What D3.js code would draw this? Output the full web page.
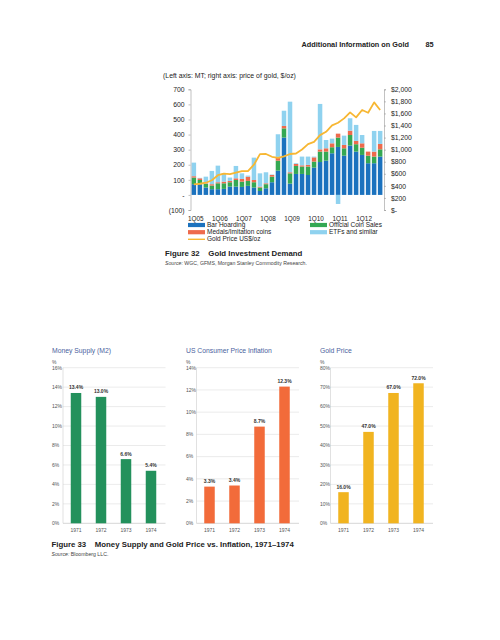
<!DOCTYPE html>
<html><head><meta charset="utf-8">
<script src="https://cdn.jsdelivr.net/npm/d3@7"></script>
<style>body{margin:0;background:#fff}svg{display:block;font-family:"Liberation Sans",Arial,sans-serif}</style>
</head><body>
<svg id="c" width="500" height="640"></svg>
<script>
// ---------- Figure 32 data ----------
const quarters = d3.range(32).map(i => (i % 4 + 1) + "Q" + String(5 + Math.floor(i / 4)).padStart(2, "0"));
const quarterTicks = ["1Q05","1Q06","1Q07","1Q08","1Q09","1Q10","1Q11","1Q12"];
const barHoarding = [71,70,49,38,38,40,55,55,53,60,49,26,44,84,161,380,75,139,139,132,181,218,227,276,318,260,327,287,265,210,210,254];
const officialCoin = [44,29,24,24,39,37,29,44,35,33,35,23,27,37,66,61,68,53,49,56,40,69,60,40,62,49,70,49,48,50,44,48];
const medals = [9,11,4,9,7,11,9,11,18,28,15,6,6,11,25,16,7,13,8,11,28,15,22,26,26,22,29,22,29,27,33,36];
const etfs = [90,3,44,88,110,55,22,82,37,7,148,88,73,3,150,101,468,5,58,55,5,301,55,31,-60,62,82,106,55,0,137,86];
const goldPrice = [425,435,452,493,576,604,593,620,643,645,750,925,928,882,864,890,928,936,1003,1091,1130,1241,1296,1402,1446,1518,1618,1535,1657,1612,1784,1657];
const leftTicks = [-100,0,100,200,300,400,500,600,700];
const rightTicks = [0,200,400,600,800,1000,1200,1400,1600,1800,2000];

// ---------- Figure 33 data ----------
const years = ["1971","1972","1973","1974"];
const moneySupply = [13.4,13.0,6.6,5.4];
const cpiInflation = [3.3,3.4,8.7,12.3];
const goldChange = [16.0,47.0,67.0,72.0];

const svg = d3.select("#c");
const txt = "#222";

// Header
svg.append("text").attr("x",301.5).attr("y",46.5).attr("font-size",7.3).attr("font-weight","bold").attr("fill",txt).text("Additional Information on Gold");
svg.append("text").attr("x",425.5).attr("y",46.5).attr("font-size",7.3).attr("font-weight","bold").attr("fill",txt).text("85");

// ---------- Figure 32 ----------
svg.append("text").attr("x",163).attr("y",77.5).attr("font-size",6.9).attr("fill",txt).text("(Left axis: MT; right axis: price of gold, $/oz)");

const x = d3.scaleBand().domain(quarters).range([191,383]).paddingInner(0.25).paddingOuter(0.1);
const yL = d3.scaleLinear().domain([-100,700]).range([210,89.3]);
const yR = d3.scaleLinear().domain([0,2000]).range([210,89.3]);

const keys = ["hoard","coin","medal","etf"];
const colors = {hoard:"#1b72be",coin:"#34a853",medal:"#ee6a4c",etf:"#8fd2ef"};
const rows = quarters.map((q,i)=>({q,hoard:barHoarding[i],coin:officialCoin[i],medal:medals[i],etf:etfs[i]}));
const stack = d3.stack().keys(keys).offset(d3.stackOffsetDiverging)(rows);

const g1 = svg.append("g");
stack.forEach(s=>{
  g1.append("g").attr("fill",colors[s.key]).selectAll("rect").data(s).join("rect")
    .attr("x",d=>x(d.data.q)).attr("width",x.bandwidth())
    .attr("y",d=>yL(Math.max(d[0],d[1]))).attr("height",d=>Math.abs(yL(d[0])-yL(d[1])));
});

const line = d3.line().x((d,i)=>x(quarters[i])+x.bandwidth()/2).y(d=>yR(d));
g1.append("path").datum(goldPrice).attr("d",line).attr("fill","none").attr("stroke","#f7b733").attr("stroke-width",1.8).attr("stroke-linejoin","round");

// left axis
const axL = d3.axisLeft(yL).tickValues(leftTicks).tickSize(2).tickPadding(4)
  .tickFormat(d=> d<0 ? "("+(-d)+")" : d===0 ? "-" : d);
const gL = svg.append("g").attr("transform","translate(190.5,0)").call(axL);
gL.selectAll("path,line").attr("stroke","#999").attr("stroke-width",0.6);
gL.selectAll("text").attr("font-size",6.8).attr("fill",txt).attr("font-family","Liberation Sans,Arial,sans-serif");

const axR = d3.axisRight(yR).tickValues(rightTicks).tickSize(2).tickPadding(5)
  .tickFormat(d=> d===0 ? "$-" : "$"+d3.format(",")(d));
const gR = svg.append("g").attr("transform","translate(384,0)").call(axR);
gR.selectAll("path,line").attr("stroke","#999").attr("stroke-width",0.6);
gR.selectAll("text").attr("font-size",6.8).attr("fill",txt).attr("font-family","Liberation Sans,Arial,sans-serif");

// x labels
svg.append("g").selectAll("text").data(quarterTicks).join("text")
  .attr("x",d=>x(d)+x.bandwidth()/2+2).attr("y",220.6).attr("text-anchor","middle")
  .attr("font-size",6.4).attr("fill",txt).text(d=>d);

// legend
const legend = [
  {label:"Bar Hoarding",c:colors.hoard,x:188,y:225,t:"rect"},
  {label:"Official Coin Sales",c:colors.coin,x:310,y:225,t:"rect"},
  {label:"Medals/Imitation coins",c:colors.medal,x:188,y:232.2,t:"rect"},
  {label:"ETFs and similar",c:colors.etf,x:310,y:232.2,t:"rect"},
  {label:"Gold Price US$/oz",c:"#f7b733",x:188,y:239.3,t:"line"}
];
legend.forEach(l=>{
  if(l.t==="rect") svg.append("rect").attr("x",l.x).attr("y",l.y-2.1).attr("width",17).attr("height",4.2).attr("fill",l.c);
  else svg.append("rect").attr("x",l.x).attr("y",l.y-0.7).attr("width",17).attr("height",1.4).attr("fill",l.c);
  svg.append("text").attr("x",l.x+19).attr("y",l.y+2.1).attr("font-size",6.5).attr("fill",txt).text(l.label);
});

// caption
svg.append("text").attr("x",165).attr("y",255.5).attr("font-size",7.8).attr("font-weight","bold").attr("fill",txt)
  .attr("xml:space","preserve").text("Figure 32    Gold Investment Demand");
svg.append("text").attr("x",165).attr("y",264.8).attr("font-size",5.2).attr("fill","#444")
  .html('<tspan font-style="italic">Source:</tspan> WGC, GFMS, Morgan Stanley Commodity Research.');

// ---------- Figure 33 ----------
function smallChart(cfg){
  const g = svg.append("g");
  const xs = d3.scaleBand().domain(years).range(cfg.range).paddingInner(0.58).paddingOuter(0.29);
  const ys = d3.scaleLinear().domain([0,cfg.max]).range([523.3,367.7]);
  const gx0 = cfg.range[0]-0.5, gx1 = cfg.range[1]+2;
  g.append("text").attr("x",cfg.lx).attr("y",352.5).attr("font-size",6.8).attr("fill","#4b5f9e").text(cfg.title);
  g.append("text").attr("x",cfg.lx).attr("y",363.5).attr("font-size",5).attr("fill","#555").text("%");
  g.selectAll(".gl").data(cfg.ticks).join("line")
    .attr("x1",gx0).attr("x2",gx1).attr("y1",d=>ys(d)).attr("y2",d=>ys(d))
    .attr("stroke",d=>d===0?"#bbb":"#ddd").attr("stroke-width",0.6);
  g.append("line").attr("x1",gx0).attr("x2",gx0).attr("y1",ys(cfg.max)).attr("y2",ys(0)).attr("stroke","#ccc").attr("stroke-width",0.6);
  g.selectAll(".tl").data(cfg.ticks).join("text")
    .attr("x",cfg.lx).attr("y",d=>ys(d)+1.8).attr("font-size",5).attr("fill","#555").text(d=>d+"%");
  g.selectAll("rect").data(cfg.values).join("rect")
    .attr("x",(d,i)=>xs(years[i])).attr("width",xs.bandwidth())
    .attr("y",d=>ys(d)).attr("height",d=>ys(0)-ys(d)).attr("fill",cfg.color);
  g.selectAll(".vl").data(cfg.values).join("text")
    .attr("x",(d,i)=>xs(years[i])+xs.bandwidth()/2).attr("y",d=>ys(d)-3.5).attr("text-anchor","middle")
    .attr("font-size",5).attr("font-weight","bold").attr("fill","#333").text(d=>d.toFixed(1)+"%");
  g.selectAll(".xl").data(years).join("text")
    .attr("x",d=>xs(d)+xs.bandwidth()/2).attr("y",531.8).attr("text-anchor","middle")
    .attr("font-size",5).attr("fill","#555").text(d=>d);
}
smallChart({title:"Money Supply (M2)",values:moneySupply,max:16,ticks:d3.range(0,17,2),range:[63.5,163.5],lx:52,color:"#23915c"});
smallChart({title:"US Consumer Price Inflation",values:cpiInflation,max:14,ticks:d3.range(0,15,2),range:[197,297],lx:186,color:"#f26b3a"});
smallChart({title:"Gold Price",values:goldChange,max:80,ticks:d3.range(0,81,10),range:[331,431],lx:320,color:"#f1b420"});

svg.append("text").attr("x",51.5).attr("y",547.3).attr("font-size",7.8).attr("font-weight","bold").attr("fill",txt)
  .attr("xml:space","preserve").text("Figure 33    Money Supply and Gold Price vs. Inflation, 1971\u20131974");
svg.append("text").attr("x",51.5).attr("y",556.3).attr("font-size",5.2).attr("fill","#444")
  .html('<tspan font-style="italic">Source:</tspan> Bloomberg LLC.');
</script>
</body></html>
